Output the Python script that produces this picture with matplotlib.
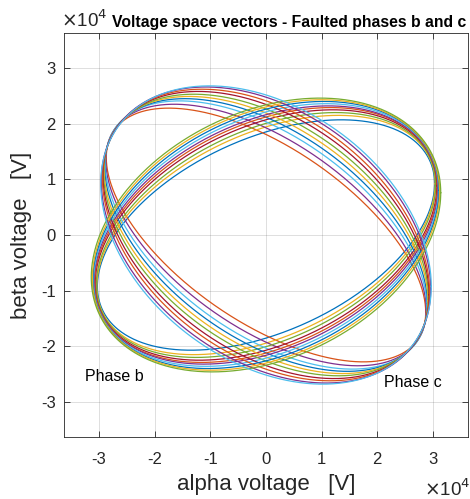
import numpy as np
import matplotlib
matplotlib.use("Agg")
import matplotlib.pyplot as plt

# MATLAB default line colour order
colors = ["#0072BD", "#D95319", "#EDB120", "#7E2F8E", "#77AC30", "#4DBEEE", "#A2142F"]

# ellipse parameters (units of 1e4 V), inner -> outer
# X: half width, Y: half height, xt: alpha value at the top of the curve
# phase b family (odd lines)
X_b = [3.03, 3.04, 3.05, 3.07, 3.08, 3.09, 3.10, 3.11, 3.12, 3.14]
Y_b = [2.07, 2.15, 2.20, 2.25, 2.29, 2.32, 2.36, 2.40, 2.43, 2.46]
xt_b = [1.35, 1.30, 1.25, 1.20, 1.16, 1.12, 1.08, 1.04, 1.00, 0.97]
# phase c family (even lines)
X_c = [2.87, 2.88, 2.89, 2.90, 2.91, 2.92, 2.93, 2.94, 2.96, 2.97]
Y_c = [2.28, 2.35, 2.41, 2.45, 2.49, 2.53, 2.58, 2.62, 2.66, 2.68]
xt_c = [-1.75, -1.65, -1.55, -1.46, -1.38, -1.30, -1.22, -1.15, -1.08, -1.02]

ticks = [-3, -2, -1, 0, 1, 2, 3]

plt.rcParams["font.family"] = ["Liberation Sans", "DejaVu Sans"]
axc = "#262626"

fig = plt.figure(figsize=(4.70, 4.99), dpi=100)
ax = fig.add_axes([64 / 470, 62 / 499, 404 / 470, 404 / 499])

t = np.linspace(0, 2 * np.pi, 600)
scale = 1e4
for k in range(len(Y_b)):
    for fam, (X, Y, xt) in enumerate([(X_b[k], Y_b[k], xt_b[k]), (X_c[k], Y_c[k], xt_c[k])]):
        i = 2 * k + fam
        phi = np.arccos(xt / X)
        x = X * np.cos(t) * scale
        y = Y * np.cos(t - phi) * scale
        ax.plot(x, y, color=colors[i % 7], lw=0.9)

lim = 3.63 * scale
ax.set_xlim(-lim, lim)
ax.set_ylim(-lim, lim)
ax.set_xticks([v * scale for v in ticks])
ax.set_yticks([v * scale for v in ticks])
ax.set_xticklabels([str(v) for v in ticks])
ax.set_yticklabels([str(v) for v in ticks])
ax.grid(True, color=axc, alpha=0.15, lw=0.7)
ax.tick_params(direction="in", length=4, width=0.6, top=True, right=True,
               labelsize=12, colors=axc)
ax.tick_params(axis="x", pad=11)
ax.tick_params(axis="y", pad=6)
for s in ax.spines.values():
    s.set_color(axc)
    s.set_linewidth(0.6)

ax.set_xlabel("alpha voltage   [V]", fontsize=16, color=axc, labelpad=5)
ax.set_ylabel("beta voltage   [V]", fontsize=16, color=axc, labelpad=6)

ax.text(-3.25 * scale, -2.54 * scale, "Phase b", fontsize=11.5, va="center")
ax.text(2.12 * scale, -2.65 * scale, "Phase c", fontsize=11.5, va="center")

fig.text(61 / 470, 1 - 27 / 499, r"$\times$10$^4$", fontsize=13.5, color=axc, va="baseline")
fig.text(424 / 470, 1 - 496 / 499, r"$\times$10$^4$", fontsize=13.5, color=axc, va="baseline")
fig.text(112 / 470, 1 - 27 / 499, "Voltage space vectors - Faulted phases b and c",
         fontsize=11.3, fontweight="bold", va="baseline")

fig.savefig("out.png", dpi=100)
